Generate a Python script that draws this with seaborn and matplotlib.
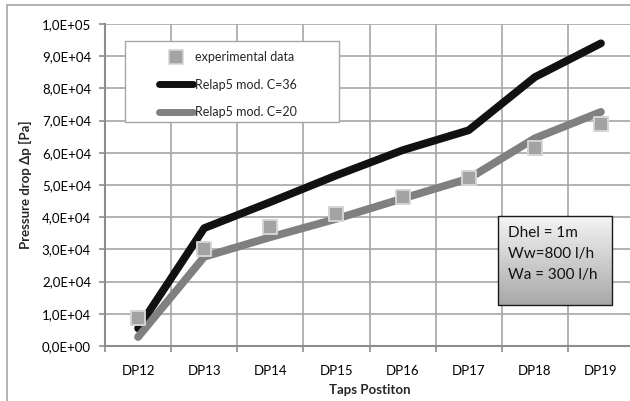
import numpy as np
import pandas as pd
import matplotlib
matplotlib.use("Agg")
import matplotlib.pyplot as plt
from matplotlib.lines import Line2D
from matplotlib.patches import Rectangle
import seaborn as sns

# Measurement taps along the helical tube
taps = ["DP12", "DP13", "DP14", "DP15", "DP16", "DP17", "DP18", "DP19"]

# Pressure drop [Pa]
experimental = [8700, 30000, 37000, 41000, 46200, 52300, 61500, 69000]
relap_c36 = [5500, 36600, 44700, 53000, 60800, 67000, 83500, 94000]
relap_c20 = [2800, 27700, 33800, 39500, 45800, 52000, 64500, 72700]

y_ticks = [0, 10000, 20000, 30000, 40000, 50000, 60000, 70000, 80000, 90000, 100000]
y_tick_labels = ["0,0E+00", "1,0E+04", "2,0E+04", "3,0E+04", "4,0E+04", "5,0E+04",
                 "6,0E+04", "7,0E+04", "8,0E+04", "9,0E+04", "1,0E+05"]

series_names = ["Relap5 mod. C=36", "Relap5 mod. C=20"]
note_lines = ["Dhel = 1m", "Ww=800 l/h", "Wa = 300 l/h"]

sns.set_theme(style="white")
plt.rcParams["font.family"] = ["Lato", "DejaVu Sans"]

W, H = 630, 401
fig = plt.figure(figsize=(W / 100, H / 100), dpi=100)
fig.patch.set_facecolor("white")

# outer chart frame (continues past the right and bottom edges)
fig.patches.append(Rectangle((7 / W, -0.05), 1.2, 1 - 5 / H + 0.05,
                             transform=fig.transFigure, fill=False,
                             edgecolor="#a6a6a6", linewidth=1.2))

ax_l, ax_r, ax_t, ax_b = 105, 634, 24, 346
ax = fig.add_axes([ax_l / W, (H - ax_b) / H, (ax_r - ax_l) / W, (ax_b - ax_t) / H])

df = pd.DataFrame({
    "tap": taps * 2,
    "dp": relap_c36 + relap_c20,
    "series": [series_names[0]] * len(taps) + [series_names[1]] * len(taps),
})
pos = {t: i for i, t in enumerate(taps)}
df["x"] = df["tap"].map(pos)

sns.lineplot(data=df, x="x", y="dp", hue="series", hue_order=series_names,
             palette=["#111111", "#808080"], linewidth=5.6, sort=False,
             legend=False, ax=ax, zorder=3)
for ln in ax.get_lines():
    ln.set_solid_capstyle("round")
    ln.set_solid_joinstyle("round")

exp_df = pd.DataFrame({"x": [pos[t] for t in taps], "dp": experimental})
sns.scatterplot(data=exp_df, x="x", y="dp", marker="s", s=110,
                color="#a3a3a3", edgecolor="#d4d4d4", linewidth=1.4,
                legend=False, ax=ax, zorder=5)

ax.set_xlim(-0.5, len(taps) - 0.5)
ax.set_ylim(0, 100000)
ax.set_xticks(range(len(taps)))
ax.set_xticklabels(taps)
ax.set_xticks(np.arange(-0.5, len(taps), 1.0), minor=True)
ax.set_yticks(y_ticks)
ax.set_yticklabels(y_tick_labels)

grid_c = "#a6a6a6"
ax.grid(False)
ax.yaxis.grid(True, color=grid_c, linewidth=1.2)
ax.xaxis.grid(True, which="minor", color=grid_c, linewidth=1.2)
ax.set_axisbelow(True)

for side in ["top", "right"]:
    ax.spines[side].set_visible(False)
for side in ["left", "bottom"]:
    ax.spines[side].set_color("#8c8c8c")
    ax.spines[side].set_linewidth(1.5)

ax.tick_params(axis="x", which="major", length=0, pad=14, labelsize=9.5, colors="#000000")
ax.tick_params(axis="x", which="minor", length=4, width=1.2, color="#8c8c8c", bottom=True)
ax.tick_params(axis="y", length=4, width=1.2, color="#8c8c8c", left=True, pad=6,
               labelsize=9.5, colors="#000000")

ax.set_xlabel("Taps Postiton", fontsize=9.5, fontweight="bold")
ax.set_ylabel("Pressure drop \u0394p [Pa]", fontsize=9.5, fontweight="bold")
ax.xaxis.set_label_coords(0.5, -(384 - ax_b) / (ax_b - ax_t), transform=ax.transAxes)
ax.yaxis.set_label_coords(-(ax_l - 32) / (ax_r - ax_l), 0.5, transform=ax.transAxes)

def ax_x(px):
    return (px - ax_l) / (ax_r - ax_l)

def ax_y(py):
    return (ax_b - py) / (ax_b - ax_t)

# legend box
ax.add_patch(Rectangle((ax_x(125), ax_y(122)), ax_x(339) - ax_x(125), ax_y(41) - ax_y(122),
                       transform=ax.transAxes, facecolor="white", edgecolor="#a6a6a6",
                       linewidth=1.0, zorder=6))
handles = [
    Line2D([], [], linestyle="none", marker="s", markersize=9.5,
           markerfacecolor="#a3a3a3", markeredgecolor="#d4d4d4", markeredgewidth=1.2),
    Line2D([], [], color="#111111", linewidth=5.0, solid_capstyle="round"),
    Line2D([], [], color="#808080", linewidth=5.0, solid_capstyle="round"),
]
labels = ["experimental data"] + series_names
leg = ax.legend(handles, labels, loc="upper left",
                bbox_to_anchor=(ax_x(159), ax_y(51)), frameon=False,
                fontsize=9, handlelength=2.7, handletextpad=0.2,
                labelspacing=1.25, borderaxespad=0, borderpad=0)
leg.set_zorder(7)

# annotation box with gradient fill
bx0, bx1, by0, by1 = ax_x(498), ax_x(612), ax_y(305), ax_y(216)
grad = np.linspace(0, 1, 256).reshape(-1, 1)
ax.imshow(grad, cmap=matplotlib.colors.LinearSegmentedColormap.from_list(
              "g", ["#f4f4f4", "#a8a8a8"]),
          extent=(bx0, bx1, by0, by1), transform=ax.transAxes, aspect="auto",
          origin="upper", zorder=6)
ax.add_patch(Rectangle((bx0, by0), bx1 - bx0, by1 - by0, transform=ax.transAxes,
                       fill=False, edgecolor="#1a1a1a", linewidth=1.0, zorder=7))
for i, line in enumerate(note_lines):
    ax.text(ax_x(508), ax_y(233 + 21 * i), line, transform=ax.transAxes,
            fontsize=11, va="center", ha="left", color="#111111", zorder=8)

ax.set_xlim(-0.5, len(taps) - 0.5)
ax.set_ylim(0, 100000)

fig.savefig("out.png", dpi=100)
